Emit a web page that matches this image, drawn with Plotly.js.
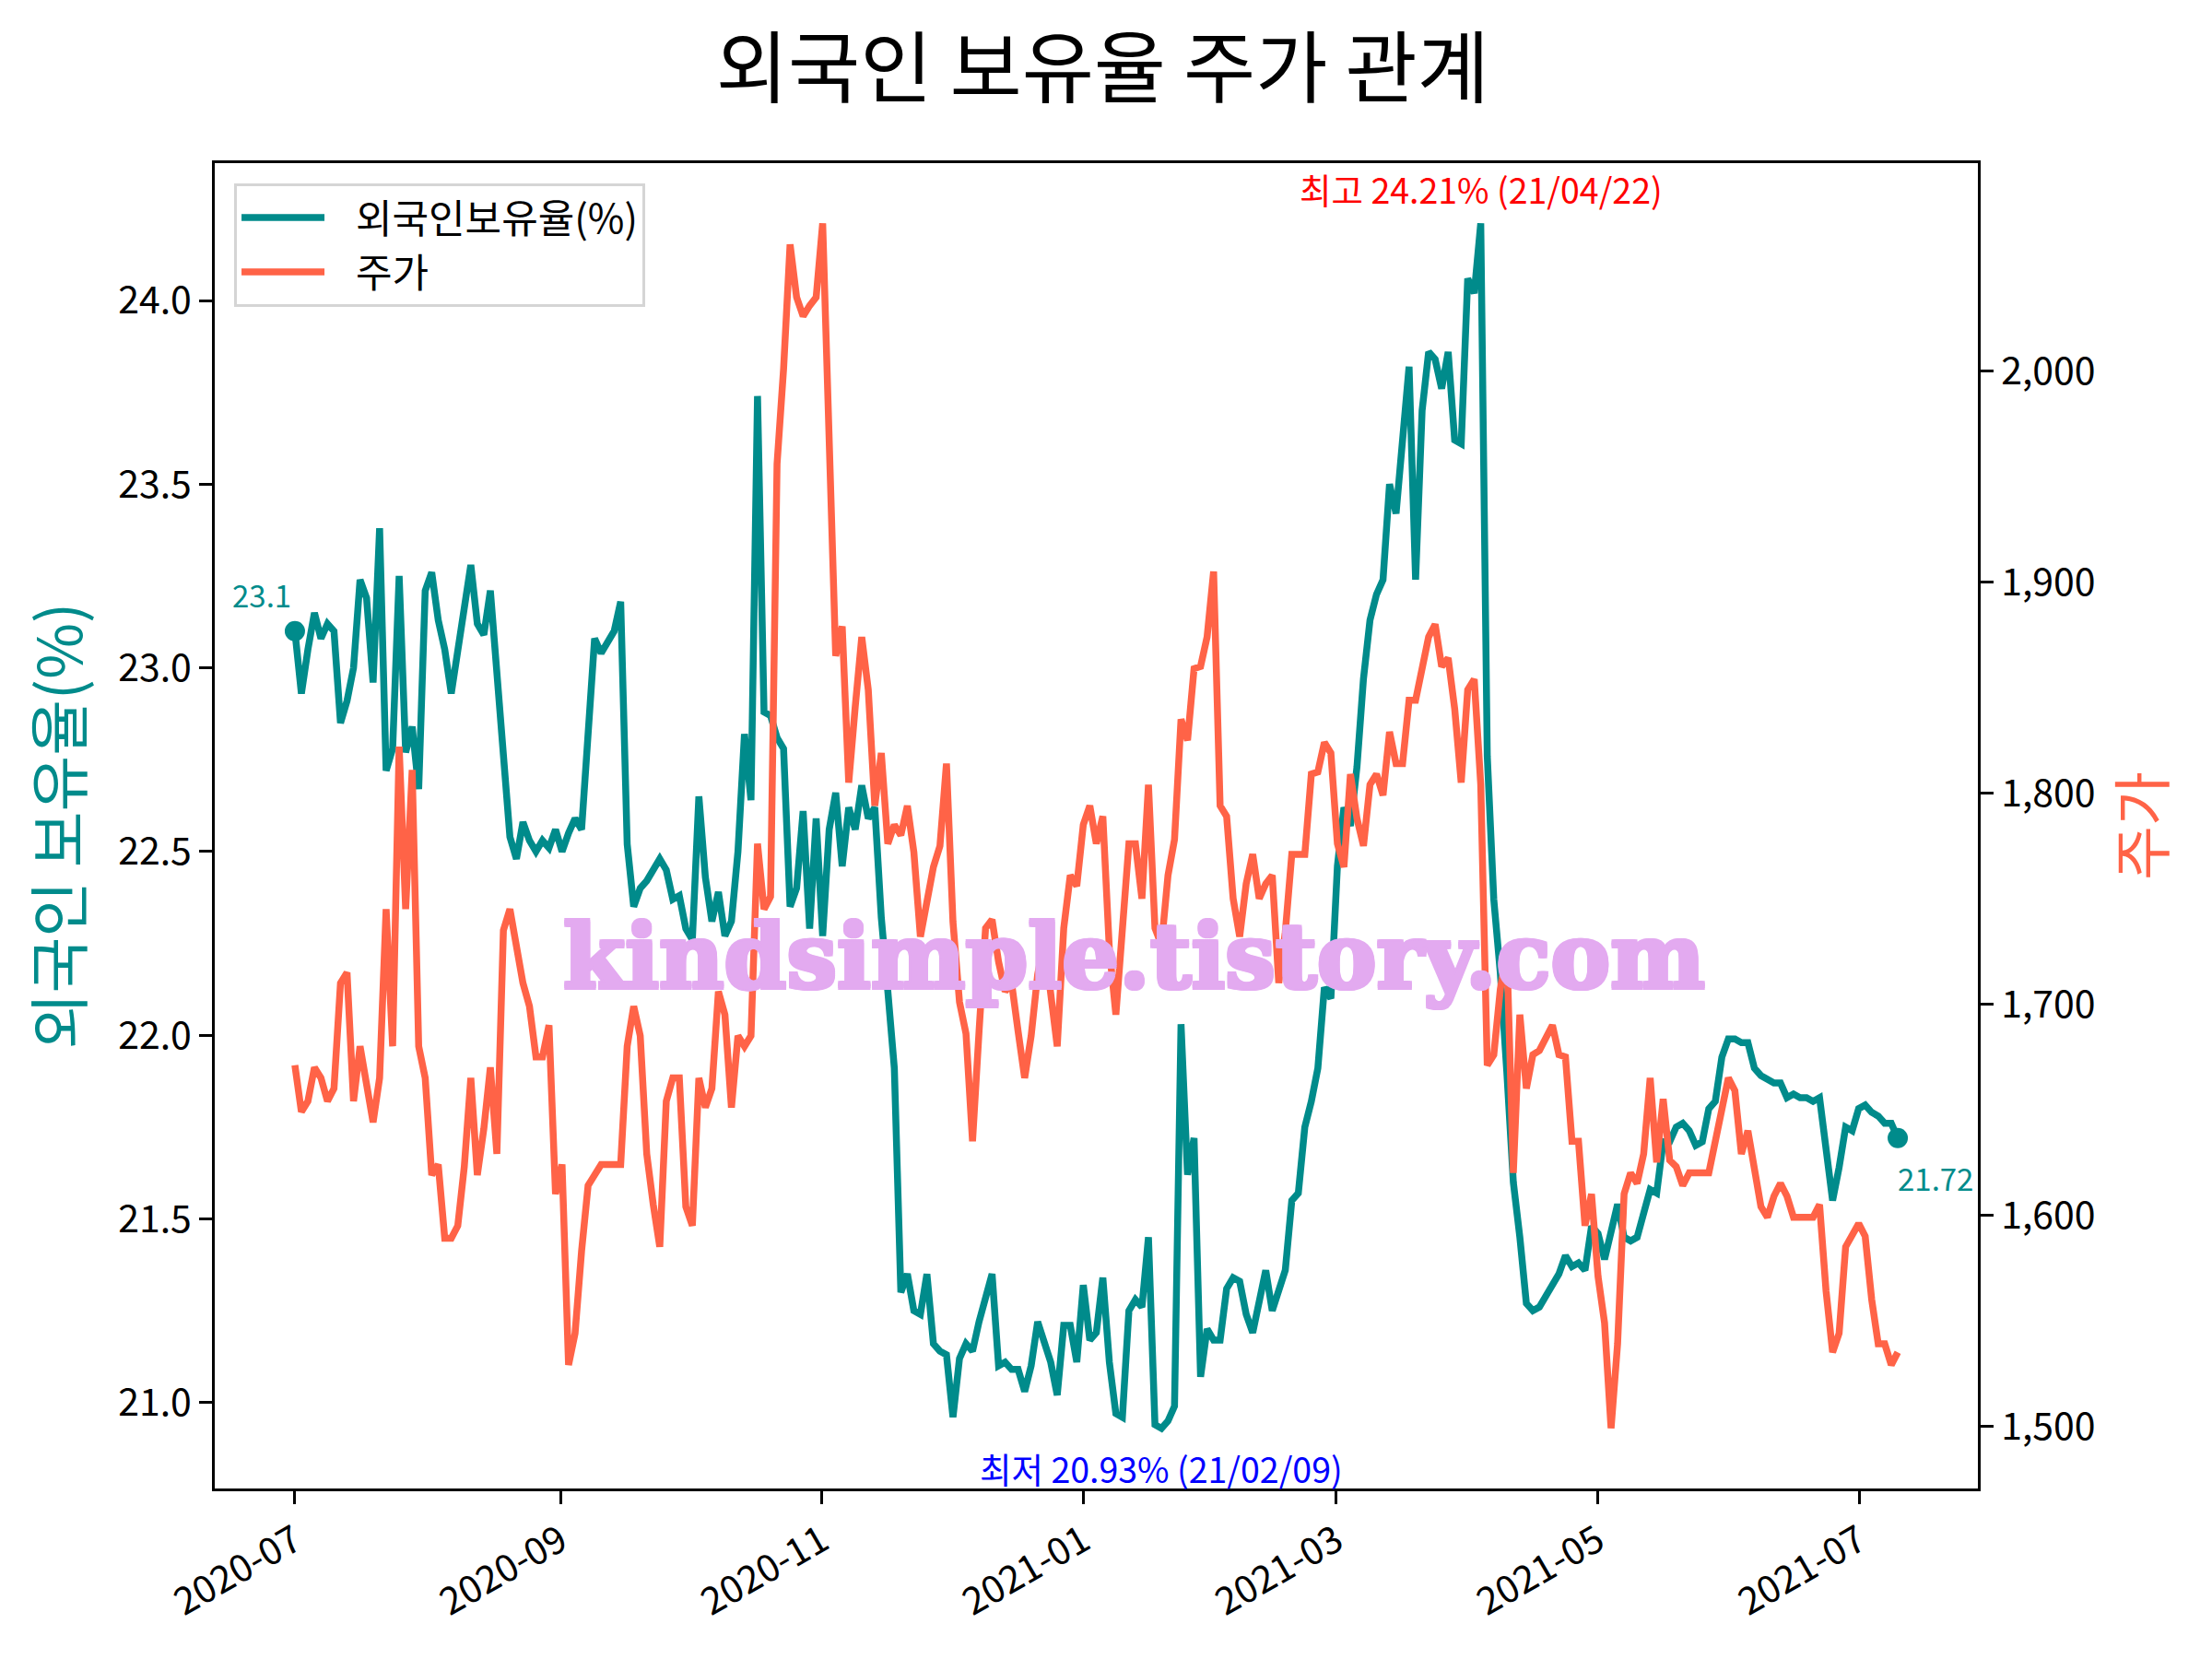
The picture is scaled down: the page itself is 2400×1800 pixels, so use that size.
<!DOCTYPE html>
<html>
<head>
<meta charset="utf-8">
<script src="https://cdn.plot.ly/plotly-3.0.1.min.js"></script>
<style>
html, body { margin: 0; padding: 0; background: #ffffff; }
#chart { width: 2400px; height: 1800px; }
</style>
</head>
<body>
<div id="chart"></div>
<script>
// ---- data ----
const dateStart = '2020-07-01';
const dateEnd = '2021-07-10';

const foreignRatio = [
  23.10, 22.93, 23.05, 23.15, 23.08, 23.12, 23.10, 22.85, 22.91, 23.00,
  23.24, 23.19, 22.96, 23.38, 22.72, 22.78, 23.25, 22.77, 22.84, 22.67,
  23.21, 23.26, 23.13, 23.05, 22.93, 23.04, 23.16, 23.28, 23.12, 23.09,
  23.21, 22.98, 22.75, 22.54, 22.48, 22.58, 22.53, 22.50, 22.53, 22.51,
  22.56, 22.50, 22.55, 22.59, 22.56, 22.83, 23.08, 23.04, 23.07, 23.10,
  23.18, 22.52, 22.35, 22.40, 22.42, 22.45, 22.48, 22.45, 22.37, 22.38,
  22.29, 22.26, 22.65, 22.43, 22.31, 22.39, 22.27, 22.31, 22.50, 22.82,
  22.64, 23.74, 22.88, 22.87, 22.81, 22.78, 22.35, 22.40, 22.61, 22.29,
  22.59, 22.27, 22.56, 22.66, 22.46, 22.62, 22.56, 22.68, 22.59, 22.62,
  22.32, 22.12, 21.91, 21.30, 21.35, 21.25, 21.24, 21.35, 21.16, 21.14,
  21.13, 20.96, 21.12, 21.16, 21.14, 21.22, 21.29, 21.35, 21.10, 21.11,
  21.09, 21.09, 21.03, 21.10, 21.22, 21.17, 21.11, 21.02, 21.21, 21.21,
  21.11, 21.32, 21.17, 21.19, 21.34, 21.11, 20.97, 20.96, 21.25, 21.28,
  21.26, 21.45, 20.94, 20.93, 20.95, 20.99, 22.03, 21.62, 21.72, 21.07,
  21.20, 21.17, 21.17, 21.31, 21.34, 21.33, 21.24, 21.19, 21.27, 21.36,
  21.25, 21.30, 21.36, 21.55, 21.57, 21.75, 21.82, 21.91, 22.13, 22.10,
  22.46, 22.62, 22.57, 22.73, 22.97, 23.13, 23.20, 23.24, 23.50, 23.42,
  23.61, 23.82, 23.24, 23.70, 23.86, 23.84, 23.76, 23.86, 23.62, 23.61,
  24.06, 24.02, 24.21, 22.76, 22.37, 22.17, 21.90, 21.60, 21.45, 21.27,
  21.25, 21.26, 21.29, 21.32, 21.35, 21.40, 21.37, 21.38, 21.36, 21.48,
  21.46, 21.39, 21.47, 21.54, 21.45, 21.44, 21.45, 21.51, 21.58, 21.57,
  21.71, 21.71, 21.75, 21.76, 21.74, 21.70, 21.71, 21.80, 21.82, 21.94,
  21.99, 21.99, 21.98, 21.98, 21.91, 21.89, 21.88, 21.87, 21.87, 21.83,
  21.84, 21.83, 21.83, 21.82, 21.83, 21.67, 21.55, 21.64, 21.75, 21.74,
  21.80, 21.81, 21.79, 21.78, 21.76, 21.76, 21.72
];

const stockPrice = [
  1671, 1649, 1654, 1670, 1665, 1654, 1660, 1710, 1715, 1654,
  1680, 1660, 1644, 1665, 1745, 1680, 1822, 1745, 1811, 1680,
  1665, 1619, 1624, 1589, 1589, 1595, 1623, 1665, 1619, 1641,
  1670, 1629, 1735, 1745, 1725, 1710, 1699, 1675, 1675, 1690,
  1610, 1624, 1529, 1544, 1583, 1614, 1619, 1624, 1624, 1624,
  1624, 1680, 1699, 1685, 1629, 1605, 1585, 1654, 1665, 1665,
  1604, 1595, 1665, 1651, 1660, 1706, 1695, 1651, 1685, 1680,
  1685, 1776, 1745, 1751, 1956, 2001, 2060, 2035, 2026, 2031,
  2035, 2070, 1952, 1865, 1879, 1805, 1841, 1874, 1849, 1794,
  1819, 1776, 1785, 1780, 1794, 1772, 1732, 1751, 1765, 1775,
  1814, 1739, 1701, 1686, 1635, 1687, 1736, 1740, 1720, 1706,
  1710, 1687, 1665, 1685, 1714, 1730, 1703, 1680, 1736, 1761,
  1756, 1785, 1794, 1776, 1789, 1726, 1695, 1736, 1776, 1776,
  1750, 1804, 1736, 1728, 1761, 1778, 1835, 1825, 1859, 1860,
  1874, 1905, 1794, 1789, 1750, 1732, 1757, 1771, 1750, 1757,
  1761, 1710, 1734, 1771, 1771, 1771, 1809, 1810, 1824, 1819,
  1776, 1765, 1809, 1788, 1775, 1804, 1809, 1799, 1829, 1814,
  1814, 1844, 1844, 1859, 1874, 1880, 1860, 1864, 1840, 1805,
  1849, 1854, 1804, 1671, 1676, 1707, 1726, 1620, 1695, 1660,
  1676, 1678, 1685, 1690, 1676, 1675, 1635, 1635, 1595, 1610,
  1571, 1549, 1499, 1539, 1610, 1620, 1615, 1629, 1665, 1625,
  1655, 1626, 1623, 1614, 1620, 1620, 1620, 1620, 1635, 1651,
  1665, 1659, 1629, 1640, 1620, 1604, 1599, 1609, 1615, 1609,
  1599, 1599, 1599, 1599, 1605, 1564, 1535, 1544, 1585, 1590,
  1596, 1590, 1560, 1539, 1539, 1529, 1535
];

const seriesNames = ['외국인보유율(%)', '주가'];
const chartTitle = '외국인 보유율 주가 관계';
const leftAxisTitle = '외국인 보유율(%)';
const rightAxisTitle = '주가';
const maxLabel = '최고 24.21% (21/04/22)';
const minLabel = '최저 20.93% (21/02/09)';
const watermarkText = 'kindsimple.tistory.com';
const xTickFormat = '%Y-%m';

// ---- derived x positions (evenly spaced points between first and last date) ----
const n = foreignRatio.length;
const t0 = Date.parse(dateStart + 'T00:00:00Z');
const t1 = Date.parse(dateEnd + 'T00:00:00Z');
const iso = t => new Date(t).toISOString().slice(0, 19).replace('T', ' ');
const dates = foreignRatio.map((_, i) => iso(t0 + (t1 - t0) * i / (n - 1)));
const xPad = (t1 - t0) * 0.05;

function paddedRange(arr) {
  const lo = Math.min(...arr), hi = Math.max(...arr);
  const p = (hi - lo) * 0.05;
  return [lo - p, hi + p];
}
const iMax = foreignRatio.indexOf(Math.max(...foreignRatio));
const iMin = foreignRatio.indexOf(Math.min(...foreignRatio));

const TEAL = '#008B8B';
const TOMATO = '#FF6347';
const WM = '#E3AAF0';
const FONT = '"Noto Sans CJK KR", "Noto Sans", sans-serif';
const legendGap = '\u00a0\u00a0\u00a0';

const traces = [
  {
    x: dates, y: foreignRatio, name: legendGap + seriesNames[0], type: 'scatter', mode: 'lines',
    line: { color: TEAL, width: 7.5 }, yaxis: 'y'
  },
  {
    x: [dates[0], dates[n - 1]], y: [foreignRatio[0], foreignRatio[n - 1]],
    type: 'scatter', mode: 'markers', showlegend: false,
    marker: { color: TEAL, size: 22 }, yaxis: 'y'
  },
  {
    x: dates, y: stockPrice, name: legendGap + seriesNames[1], type: 'scatter', mode: 'lines',
    line: { color: TOMATO, width: 7.5 }, yaxis: 'y2'
  }
];

const axisCommon = {
  showline: true, linecolor: '#000000', linewidth: 3,
  ticks: 'outside', ticklen: 14, tickwidth: 3, tickcolor: '#000000',
  showgrid: false, zeroline: false, automargin: false,
  tickfont: { family: FONT, size: 41, color: '#000000' }
};

const layout = {
  width: 2400, height: 1800,
  paper_bgcolor: '#ffffff', plot_bgcolor: '#ffffff',
  margin: { l: 233, r: 254, t: 177, b: 185, pad: 0 },
  font: { family: FONT, color: '#000000' },
  title: {
    text: chartTitle, font: { family: FONT, size: 85, color: '#000000' },
    x: 0.4985, xanchor: 'center', y: 1 - 75 / 1800, yanchor: 'middle', yref: 'container'
  },
  showlegend: true,
  legend: {
    x: 0.011, y: 0.985, xanchor: 'left', yanchor: 'top',
    bgcolor: '#ffffff', bordercolor: '#d5d5d5', borderwidth: 3,
    font: { family: FONT, size: 43, color: '#000000' },
    itemwidth: 90, tracegroupgap: 0
  },
  xaxis: Object.assign({}, axisCommon, {
    type: 'date', range: [iso(t0 - xPad), iso(t1 + xPad)],
    tick0: '2020-07-01', dtick: 'M2', tickformat: xTickFormat, tickangle: -30,
    mirror: true
  }),
  yaxis: Object.assign({}, axisCommon, {
    range: paddedRange(foreignRatio), dtick: 0.5, tick0: 0, tickformat: '.1f',
    title: { text: leftAxisTitle, font: { family: FONT, size: 66, color: TEAL }, standoff: 18 }
  }),
  yaxis2: Object.assign({}, axisCommon, {
    overlaying: 'y', side: 'right', anchor: 'x',
    range: paddedRange(stockPrice), dtick: 100, tick0: 0, tickformat: ',d',
    title: { text: rightAxisTitle, font: { family: FONT, size: 64, color: TOMATO }, standoff: 8 }
  }),
  annotations: [
    {
      x: dates[iMax], y: foreignRatio[iMax], xref: 'x', yref: 'y', text: maxLabel,
      showarrow: false, xanchor: 'center', yanchor: 'middle', yshift: 38,
      font: { family: FONT, size: 37.5, color: '#FF0000' }
    },
    {
      x: dates[iMin], y: foreignRatio[iMin], xref: 'x', yref: 'y', text: minLabel,
      showarrow: false, xanchor: 'center', yanchor: 'middle', yshift: -43,
      font: { family: FONT, size: 37.5, color: '#0000FF' }
    },
    {
      x: dates[0], y: foreignRatio[0], xref: 'x', yref: 'y', text: String(foreignRatio[0].toFixed(1)),
      showarrow: false, xanchor: 'right', yanchor: 'middle', xshift: -2, yshift: 40,
      font: { family: FONT, size: 33, color: TEAL }
    },
    {
      x: dates[n - 1], y: foreignRatio[n - 1], xref: 'x', yref: 'y', text: String(foreignRatio[n - 1]),
      showarrow: false, xanchor: 'left', yanchor: 'middle', xshift: -2, yshift: -43,
      font: { family: FONT, size: 33, color: TEAL }
    },
    {
      x: 0.5212, y: 0.401, xref: 'paper', yref: 'paper', text: watermarkText,
      showarrow: false, xanchor: 'center', yanchor: 'middle',
      font: {
        family: '"DejaVu Serif", serif', size: 97, color: WM, weight: 'bold',
        shadow: '2px 0 0 ' + WM + ', -2px 0 0 ' + WM + ', 0 2px 0 ' + WM + ', 0 -2px 0 ' + WM +
                ', 2px 2px 0 ' + WM + ', -2px -2px 0 ' + WM + ', 2px -2px 0 ' + WM + ', -2px 2px 0 ' + WM
      }
    }
  ]
};

Plotly.newPlot('chart', traces, layout, { staticPlot: true, displayModeBar: false });
</script>
</body>
</html>
